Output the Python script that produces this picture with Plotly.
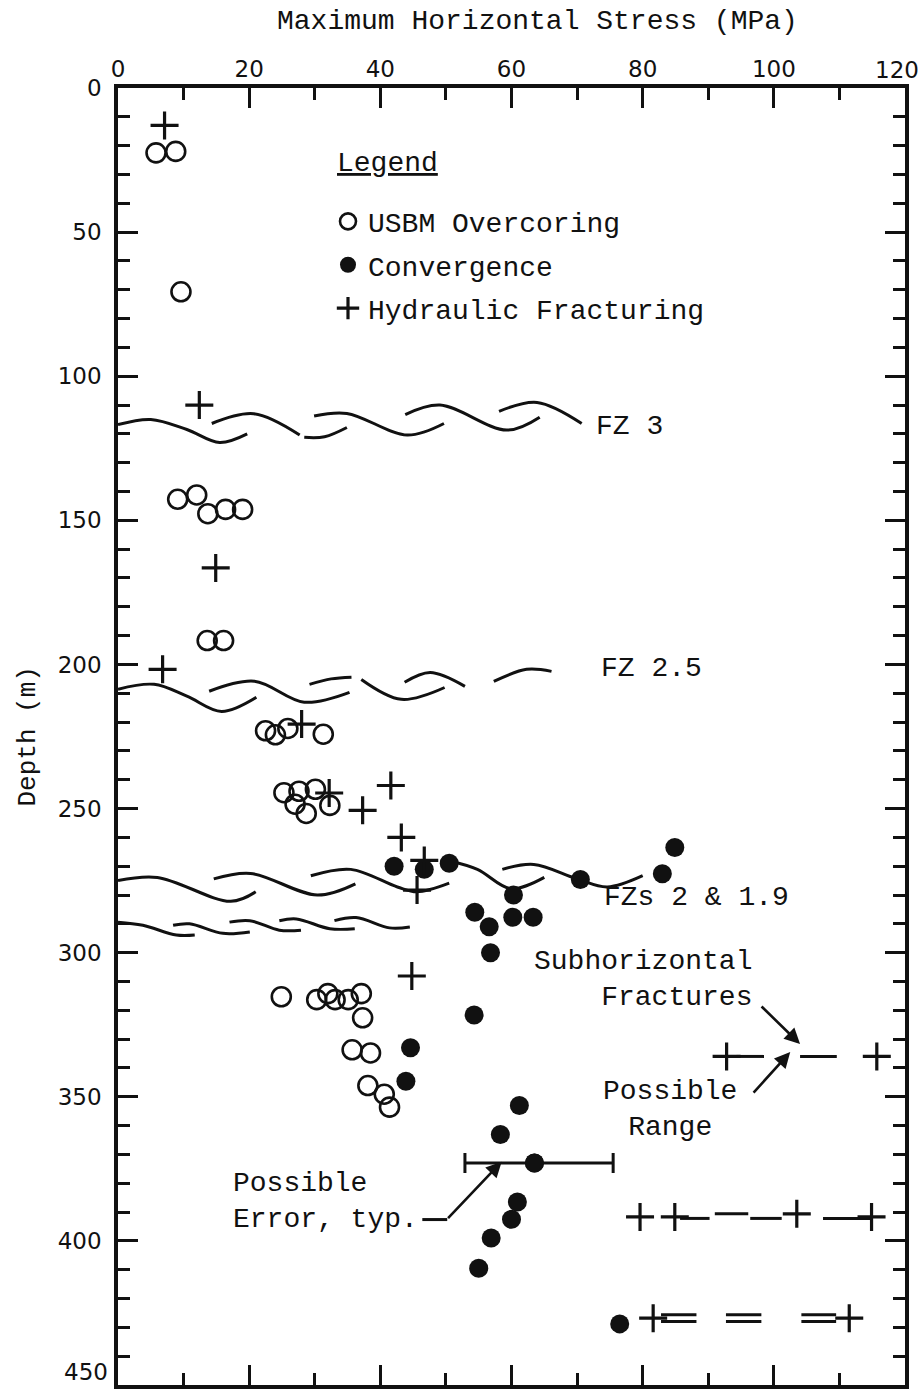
import plotly.graph_objects as go

# ---------------- data (MPa, m) ----------------
usbm_stress = [5.8, 8.8, 9.6,
               9.1, 12.0, 13.7, 16.4, 19.0,
               13.6, 16.1,
               22.5, 24.0, 25.9, 31.3,
               25.3, 27.0, 27.6, 28.7, 30.1, 32.3,
               24.9, 30.3, 32.0, 33.1, 35.1, 37.1,
               37.3, 35.7, 38.5, 38.1, 40.6, 41.4]
usbm_depth = [22.5, 22.0, 70.7,
              142.7, 141.2, 147.7, 146.2, 146.2,
              191.7, 191.7,
              223.0, 224.4, 222.2, 224.2,
              244.5, 248.5, 244.0, 251.7, 243.3, 248.9,
              315.3, 316.3, 314.2, 316.3, 316.3, 314.2,
              322.6, 333.7, 334.8, 346.1, 349.1, 353.6]

conv_stress = [42.1, 46.7, 50.5, 60.3, 54.4, 60.2, 63.3, 56.6, 56.8, 70.5, 84.9, 83.0,
               54.3, 44.6, 43.9, 61.2, 58.3, 63.5, 60.9, 60.0, 56.9, 55.0, 76.5]
conv_depth = [270.0, 271.1, 269.0, 280.0, 286.0, 287.7, 287.7, 291.0, 300.0, 274.6, 263.5, 272.6,
              321.6, 333.0, 344.6, 353.0, 363.1, 373.0, 386.5, 392.5, 399.0, 409.5, 428.8]
conv_err_plus = [0] * 17 + [12.0] + [0] * 5
conv_err_minus = [0] * 17 + [10.6] + [0] * 5

hf_stress = [7.1, 12.4, 14.9, 6.8, 28.0, 32.2, 37.3, 41.6, 43.2, 46.7, 45.6, 44.8,
             92.8, 115.7, 79.6, 84.9, 103.5, 114.9, 81.6, 111.5]
hf_depth = [13.0, 110.0, 166.5, 201.7, 220.7, 244.6, 250.6, 242.0, 260.0, 268.0, 278.3, 308.1,
            336.0, 336.0, 391.7, 391.7, 390.6, 391.7, 426.8, 426.8]

# possible-range dashes of the subhorizontal fractures
dash_start = [94.3, 104.0, 85.7, 91.0, 96.4, 107.5, 82.8, 82.8, 92.7, 92.7, 104.2, 104.2]
dash_end = [98.5, 109.6, 90.2, 96.1, 101.2, 114.7, 88.2, 88.2, 98.1, 98.1, 109.5, 109.5]
dash_depth = [336.0, 336.0, 392.2, 390.6, 392.2, 392.2, 425.6, 428.0, 425.6, 428.0, 425.6, 428.0]

# fault zones (wavy lines), each segment as (stress, depth) pairs
fz3 = [
    [(0.0, 116.8), (5.0, 115.0), (10.5, 118.5), (15.5, 123.0), (19.7, 120.0)],
    [(14.3, 116.4), (20.7, 113.0), (27.7, 120.4)],
    [(28.4, 121.2), (31.5, 121.0), (34.9, 117.8)],
    [(29.9, 113.8), (34.9, 112.9), (44.1, 120.4), (49.7, 116.4)],
    [(43.8, 113.3), (49.1, 110.0), (59.3, 118.7), (64.3, 114.2)],
    [(58.1, 112.2), (63.9, 109.1), (70.7, 116.4)],
]
fz25 = [
    [(0.0, 208.6), (5.5, 206.9), (10.5, 211.0), (15.8, 216.3), (21.1, 211.4)],
    [(13.9, 209.3), (20.8, 205.8), (28.4, 213.1), (35.3, 209.7)],
    [(29.2, 206.9), (32.5, 205.0), (35.6, 204.4)],
    [(37.1, 205.2), (43.2, 212.1), (49.8, 208.0)],
    [(43.7, 206.2), (47.6, 202.8), (52.9, 207.6)],
    [(57.3, 205.9), (62.3, 201.7), (66.1, 202.4)],
]
fz2 = [
    [(0.0, 275.0), (6.0, 273.9), (17.2, 282.2), (21.0, 278.9)],
    [(14.6, 274.4), (20.2, 272.5), (30.4, 280.0), (36.2, 276.1)],
    [(29.4, 273.3), (35.5, 271.1), (42.6, 277.2), (45.6, 278.9), (50.5, 275.9)],
    [(50.5, 268.1), (54.8, 271.1), (59.9, 277.8), (65.0, 273.9)],
    [(58.6, 271.1), (63.4, 269.4), (70.0, 274.4), (74.6, 277.2), (80.0, 273.3)],
]
fz19 = [
    [(0.0, 289.4), (3.8, 290.5), (8.9, 293.9), (11.7, 293.9)],
    [(8.4, 290.5), (10.9, 290.0), (16.0, 293.3), (20.1, 292.8)],
    [(17.0, 289.4), (20.1, 288.9), (24.6, 292.2), (27.9, 292.2)],
    [(24.6, 288.9), (27.2, 288.3), (32.3, 291.7), (36.1, 291.7)],
    [(33.0, 288.9), (36.3, 287.8), (41.4, 291.4), (44.5, 291.1)],
]

x_ticks = [0, 20, 40, 60, 80, 100, 120]
x_tick_text = ["0", "20", "40", "60", "80", "100", ""]
y_ticks = [0, 50, 100, 150, 200, 250, 300, 350, 400, 450]
y_tick_text = ["0", "50", "100", "150", "200", "250", "300", "350", "400", ""]

MONO = "Liberation Mono, Courier New, monospace"
SANS = "DejaVu Sans, Arial, sans-serif"
INK = "#111111"

fig = go.Figure()

# fault-zone lines
for seg in fz3 + fz25 + fz2 + fz19:
    fig.add_trace(go.Scatter(
        x=[p[0] for p in seg], y=[p[1] for p in seg], mode="lines",
        line=dict(color=INK, width=3, shape="spline", smoothing=1.0),
        showlegend=False, hoverinfo="skip"))

# dashes of subhorizontal fractures
for xs, xe, d in zip(dash_start, dash_end, dash_depth):
    fig.add_trace(go.Scatter(
        x=[xs, xe], y=[d, d], mode="lines",
        line=dict(color=INK, width=3), showlegend=False, hoverinfo="skip"))

fig.add_trace(go.Scatter(
    x=usbm_stress, y=usbm_depth, mode="markers", name="USBM Overcoring",
    legendgroup="a",
    marker=dict(symbol="circle-open", size=19, color=INK, line=dict(width=2.6, color=INK))))

fig.add_trace(go.Scatter(
    x=conv_stress, y=conv_depth, mode="markers", name="Convergence",
    legendgroup="b",
    marker=dict(symbol="circle", size=19, color=INK)))

err_idx = [i for i, e in enumerate(conv_err_plus) if e > 0]
fig.add_trace(go.Scatter(
    x=[conv_stress[i] for i in err_idx], y=[conv_depth[i] for i in err_idx],
    mode="markers", marker=dict(symbol="circle", size=19, color=INK),
    error_x=dict(type="data", symmetric=False,
                 array=[conv_err_plus[i] for i in err_idx],
                 arrayminus=[conv_err_minus[i] for i in err_idx],
                 color=INK, thickness=3, width=10),
    showlegend=False, hoverinfo="skip"))

fig.add_trace(go.Scatter(
    x=hf_stress, y=hf_depth, mode="markers", name="Hydraulic Fracturing",
    legendgroup="c",
    marker=dict(symbol="cross-thin-open", size=20, color=INK, line=dict(width=3.2, color=INK))))

# leader line of "Possible Error, typ."
fig.add_trace(go.Scatter(x=[46.4, 50.2], y=[392.6, 392.6], mode="lines",
                         line=dict(color=INK, width=3), showlegend=False, hoverinfo="skip"))

axis_common = dict(
    showline=True, linewidth=3.5, linecolor=INK, mirror="allticks",
    ticks="inside", ticklen=20, tickwidth=3, tickcolor=INK,
    showgrid=False, zeroline=False,
    tickfont=dict(family=SANS, size=23, color=INK),
)

fig.update_layout(
    width=923, height=1393,
    margin=dict(l=118, r=18, t=88, b=4),
    paper_bgcolor="white", plot_bgcolor="white",
    xaxis=dict(range=[0, 120], side="top", tickvals=x_ticks, ticktext=x_tick_text,
               ticklabelstandoff=-2,
               minor=dict(ticks="inside", ticklen=12, tickwidth=3, tickcolor=INK, dtick=10,
                          tick0=0, showgrid=False),
               **axis_common),
    yaxis=dict(range=[450, 0], tickvals=y_ticks, ticktext=y_tick_text, ticklabelstandoff=8,
               minor=dict(ticks="inside", ticklen=12, tickwidth=3, tickcolor=INK, dtick=10,
                          tick0=0, showgrid=False),
               **axis_common),
    showlegend=True,
    legend=dict(x=(334 - 118 - 6) / 787, xanchor="left", y=1 - (197 - 88) / 1301, yanchor="top",
                bgcolor="rgba(0,0,0,0)", borderwidth=0,
                font=dict(family=MONO, size=28, color=INK),
                traceorder="grouped", tracegroupgap=4, itemsizing="trace"),
)

ann_font = dict(family=MONO, size=28, color=INK)
tick_font = dict(family=SANS, size=23, color=INK)
annotations = [
    dict(text="Maximum Horizontal Stress (MPa)", xref="paper", yref="paper",
         x=(537 - 118) / 787, y=1 + (88 - 21) / 1301, xanchor="center", yanchor="middle",
         showarrow=False, font=ann_font),
    dict(text="Depth (m)", xref="paper", yref="paper", x=(27 - 118) / 787, y=0.5,
         xanchor="center", yanchor="middle", textangle=-90, showarrow=False,
         font=dict(family=MONO, size=26, color=INK)),
    # end tick labels kept inside the page
    dict(text="450", xref="paper", yref="paper", x=(110 - 118) / 787, y=(1389 - 1376) / 1301,
         xanchor="right", yanchor="middle", showarrow=False, font=tick_font),
    dict(text="120", xref="paper", yref="paper", x=(897 - 118) / 787, y=1 + (88 - 70) / 1301,
         xanchor="center", yanchor="middle", showarrow=False, font=tick_font),
    dict(text="<u>Legend</u>", xref="paper", yref="paper", x=(335 - 118) / 787,
         y=1 - (164 - 88) / 1301, xanchor="left", yanchor="middle", showarrow=False, font=ann_font),
    dict(text="FZ 3", x=72.6, y=117.3, xanchor="left", yanchor="middle", showarrow=False, font=ann_font),
    dict(text="FZ 2.5", x=73.3, y=201.3, xanchor="left", yanchor="middle", showarrow=False, font=ann_font),
    dict(text="FZs 2 &amp; 1.9", x=73.8, y=280.9, xanchor="left", yanchor="middle", showarrow=False, font=ann_font),
    dict(text="Subhorizontal<br>Fractures", x=96.9, y=309.4, xanchor="right", yanchor="middle",
         align="right", showarrow=False, font=ann_font),
    dict(text="Possible<br>Range", x=84.2, y=354.5, xanchor="center", yanchor="middle",
         align="center", showarrow=False, font=ann_font),
    dict(text="Possible<br>Error, typ.", x=17.3, y=386.4, xanchor="left", yanchor="middle",
         align="left", showarrow=False, font=ann_font),
    # arrows
    dict(text="", x=104.0, y=331.7, ax=-40, ay=-39, showarrow=True, arrowhead=2, arrowsize=1.2,
         arrowwidth=2.6, arrowcolor=INK, standoff=0, startstandoff=0),
    dict(text="", x=102.5, y=334.5, ax=-38, ay=42, showarrow=True, arrowhead=2, arrowsize=1.2,
         arrowwidth=2.6, arrowcolor=INK, standoff=0, startstandoff=0),
    dict(text="", x=58.5, y=372.5, ax=-55, ay=58, showarrow=True, arrowhead=2, arrowsize=1.2,
         arrowwidth=2.6, arrowcolor=INK, standoff=0, startstandoff=0),
]
fig.update_layout(annotations=annotations)

# remove the browser's default page margin so the figure sits at the window origin
fig.write_html("out.html", config={"displayModeBar": False},
               post_script="document.body.style.margin='0';")
